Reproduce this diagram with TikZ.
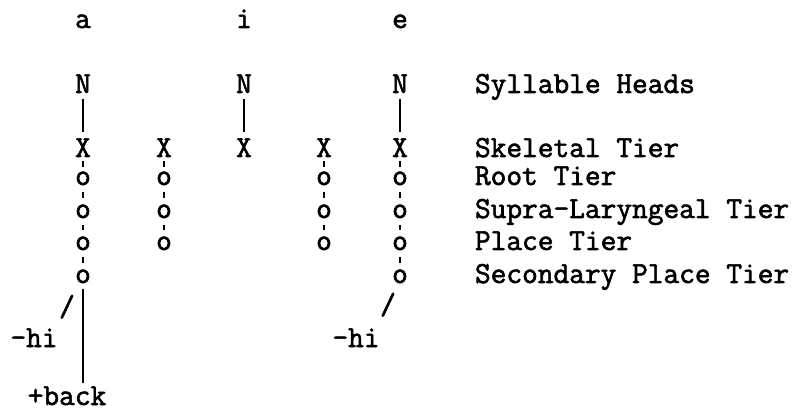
\documentclass[tikz,border=0pt]{standalone}
\usepackage{fontspec}
\newfontfamily\twfont{Latin Modern Mono}[FakeBold=2]
\begin{document}
\begin{tikzpicture}[x=1pt,y=-1pt,
  every node/.style={inner sep=0pt, outer sep=0pt, anchor=base,
    font=\twfont\fontsize{30.5}{36}\selectfont},
  lbl/.style={anchor=base west},
  bar/.style={line width=1.8pt, shorten <=6pt, shorten >=6pt},
  tick/.style={line width=2.2pt, shorten <=#1, shorten >=#1},
  tick/.default=7pt]
\useasboundingbox (0,0) rectangle (802,411);
% vowels
\node (va) at (83,28) {a};
\node (vi) at (244,28) {i};
\node (ve) at (400,28) {e};
% syllable heads
\node (na) at (83,93) {N};
\node (ni) at (244,93) {N};
\node (ne) at (400,93) {N};
% skeletal tier
\node (xa) at (83,157) {X};
\node (xb) at (164,157) {X};
\node (xi) at (244,157) {X};
\node (xd) at (324,157) {X};
\node (xe) at (400,157) {X};
% column a
\node (oa1) at (83,185) {o};
\node (oa2) at (83,218) {o};
\node (oa3) at (83,250) {o};
\node (oa4) at (83,283) {o};
% column b
\node (ob1) at (164,185) {o};
\node (ob2) at (164,218) {o};
\node (ob3) at (164,250) {o};
% column d
\node (od1) at (324,185) {o};
\node (od2) at (324,218) {o};
\node (od3) at (324,250) {o};
% column e
\node (oe1) at (400,185) {o};
\node (oe2) at (400,218) {o};
\node (oe3) at (400,250) {o};
\node (oe4) at (400,283) {o};
% labels
\node[lbl] (l0) at (475,93) {Syllable Heads};
\node[lbl] (l1) at (475,157) {Skeletal Tier};
\node[lbl] (l2) at (475,185) {Root Tier};
\node[lbl] (l3) at (475,218) {Supra-Laryngeal Tier};
\node[lbl] (l4) at (475,250) {Place Tier};
\node[lbl] (l5) at (475,283) {Secondary Place Tier};
% features
\node (sla) at (67,316) {/};
\node (hia) at (34,347) {-hi};
\node (back) at (67,405) {+back};
\node (sle) at (388,314) {/};
\node (hie) at (356,347) {-hi};
% association lines
\draw[bar] (na) -- (xa);
\draw[bar] (ni) -- (xi);
\draw[bar] (ne) -- (xe);
\draw[bar, shorten >=3pt] (oa4) -- (oa4 |- back.north);
% ticks
\foreach \c in {a,b,d,e} \draw[tick=4.5pt] (x\c) -- (o\c1);
\foreach \c in {a,b,d,e} \draw[tick] (o\c1) -- (o\c2);
\foreach \c in {a,b,d,e} \draw[tick] (o\c2) -- (o\c3);
\foreach \c in {a,e} \draw[tick] (o\c3) -- (o\c4);
\end{tikzpicture}
\end{document}
